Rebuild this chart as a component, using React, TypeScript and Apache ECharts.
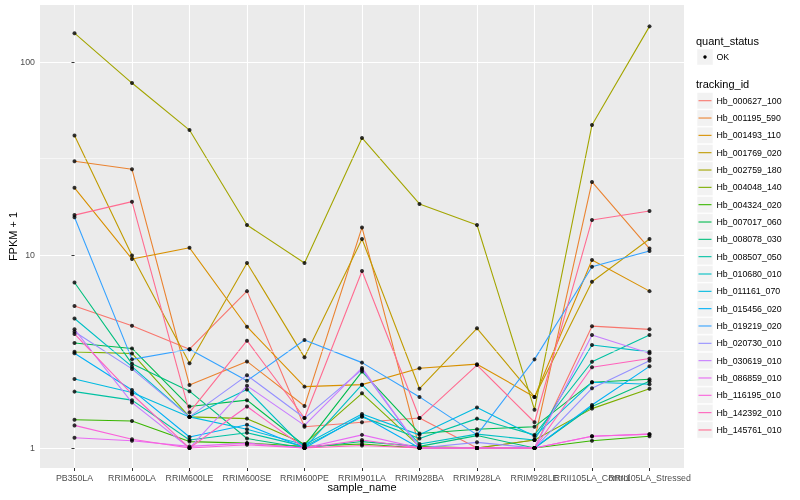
import React, { useEffect, useRef } from 'react';
import * as echarts from 'echarts';

const samples = ['PB350LA', 'RRIM600LA', 'RRIM600LE', 'RRIM600SE', 'RRIM600PE', 'RRIM901LA', 'RRIM928BA', 'RRIM928LA', 'RRIM928LE', 'RRII105LA_Control', 'RRII105LA_Stressed'];

const trackingIds = ['Hb_000627_100', 'Hb_001195_590', 'Hb_001493_110', 'Hb_001769_020', 'Hb_002759_180', 'Hb_004048_140', 'Hb_004324_020', 'Hb_007017_060', 'Hb_008078_030', 'Hb_008507_050', 'Hb_010680_010', 'Hb_011161_070', 'Hb_015456_020', 'Hb_019219_020', 'Hb_020730_010', 'Hb_030619_010', 'Hb_086859_010', 'Hb_116195_010', 'Hb_142392_010', 'Hb_145761_010'];

const colors = ['#F8766D', '#EA8331', '#D89000', '#C09B00', '#A3A500', '#7CAE00', '#39B600', '#00BB4E', '#00BF7D', '#00C1A3', '#00BFC4', '#00BAE0', '#00B0F6', '#35A2FF', '#9590FF', '#C77CFF', '#E76BF3', '#FA62DB', '#FF62BC', '#FF6C91'];

// FPKM + 1 per sample
const hb000627_100 = [5.44, 4.3, 3.25, 6.5, 1.29, 1.36, 1.43, 1.0, 1.0, 4.28, 4.12];
const hb001195_590 = [30.6, 27.8, 2.12, 2.81, 1.65, 13.9, 1.0, 1.0, 1.1, 23.9, 10.8];
const hb001493_110 = [22.3, 9.53, 10.9, 4.25, 2.08, 2.13, 2.59, 2.72, 1.84, 9.43, 6.5];
const hb001769_020 = [41.6, 9.95, 2.75, 9.1, 2.95, 12.1, 2.03, 4.17, 1.84, 7.27, 12.1];
const hb002759_180 = [141, 77.8, 44.4, 14.3, 9.09, 40.4, 18.4, 14.3, 1.58, 47.2, 153];
const hb004048_140 = [3.15, 3.09, 1.45, 1.42, 1.05, 1.92, 1.02, 1.0, 1.1, 1.6, 2.03];
const hb004324_020 = [1.4, 1.38, 1.08, 1.06, 1.02, 1.05, 1.0, 1.0, 1.0, 1.09, 1.15];
const hb007017_060 = [3.5, 3.28, 1.64, 1.77, 1.03, 2.49, 1.19, 1.25, 1.29, 2.19, 2.27];
const hb008078_030 = [7.2, 2.73, 1.97, 1.12, 1.0, 1.08, 1.02, 1.16, 1.0, 1.64, 2.22];
const hb008507_050 = [1.96, 1.77, 1.1, 1.2, 1.02, 1.45, 1.12, 1.42, 1.17, 2.8, 3.85];
const hb010680_010 = [4.69, 2.64, 1.45, 2.01, 1.0, 2.13, 1.05, 1.18, 1.1, 3.42, 3.15];
const hb011161_070 = [2.28, 1.94, 1.45, 1.25, 1.04, 1.5, 1.17, 1.62, 1.15, 2.19, 2.14];
const hb015456_020 = [3.1, 2.0, 1.14, 1.32, 1.0, 1.47, 1.0, 1.0, 1.0, 1.67, 2.65];
const hb019219_020 = [15.7, 2.88, 3.25, 2.23, 3.63, 2.77, 1.84, 1.17, 2.88, 8.7, 10.5];
const hb020730_010 = [4.0, 2.57, 1.45, 2.38, 1.43, 2.55, 1.0, 1.07, 1.0, 2.04, 2.83];
const hb030619_010 = [4.12, 1.72, 1.0, 2.1, 1.31, 2.6, 1.0, 1.0, 1.0, 3.85, 3.1];
const hb086859_010 = [1.13, 1.09, 1.02, 1.06, 1.0, 1.17, 1.0, 1.0, 1.0, 1.15, 1.18];
const hb116195_010 = [1.31, 1.11, 1.0, 1.04, 1.0, 1.1, 1.0, 1.0, 1.0, 1.15, 1.18];
const hb142392_010 = [3.9, 1.9, 1.0, 1.64, 1.0, 1.03, 1.0, 1.0, 1.0, 2.62, 2.91];
const hb145761_010 = [16.1, 18.9, 1.53, 3.6, 1.43, 8.26, 1.43, 2.69, 1.36, 15.2, 16.9];

const seriesValues = [hb000627_100, hb001195_590, hb001493_110, hb001769_020, hb002759_180, hb004048_140, hb004324_020, hb007017_060, hb008078_030, hb008507_050, hb010680_010, hb011161_070, hb015456_020, hb019219_020, hb020730_010, hb030619_010, hb086859_010, hb116195_010, hb142392_010, hb145761_010];

const yMajorTicks = [1, 10, 100];
const yMinorBreaks = [3.1623, 31.623];
const yMin = 0.788;
const yMax = 197.4;

const FONT = '"Liberation Sans", Arial, Helvetica, sans-serif';

export default function App() {
  const ref = useRef<HTMLDivElement>(null);
  useEffect(() => {
    if (!ref.current) return;
    const chart = echarts.init(ref.current, undefined, { renderer: 'svg' });
    const xIdx = samples.map((_, i) => i);
    const xIdxEven = xIdx.filter((i) => i % 2 === 0);
    const xIdxOdd = xIdx.filter((i) => i % 2 === 1);

    const lineSeries = seriesValues.map((vals, i) => ({
      type: 'line',
      name: trackingIds[i],
      data: vals.map((v, j) => [j, v]),
      showSymbol: false,
      symbol: 'none',
      silent: true,
      z: 3,
      lineStyle: { color: colors[i], width: 1.1 },
      itemStyle: { color: colors[i] },
    }));

    const points: number[][] = [];
    seriesValues.forEach((vals) => vals.forEach((v, j) => points.push([j, v])));

    const legendItems: any[] = [];
    const legendX = 697;
    legendItems.push({ type: 'text', x: 696, y: 41, style: { text: 'quant_status', fontSize: 11, fontFamily: FONT, fill: '#000', align: 'left', verticalAlign: 'middle' } });
    legendItems.push({ type: 'rect', shape: { x: legendX, y: 49, width: 16, height: 16 }, style: { fill: '#F2F2F2', stroke: '#fff', lineWidth: 0.5 } });
    legendItems.push({ type: 'circle', shape: { cx: legendX + 8, cy: 57, r: 1.7 }, style: { fill: '#000' } });
    legendItems.push({ type: 'text', x: 716.5, y: 57, style: { text: 'OK', fontSize: 8.8, fontFamily: FONT, fill: '#000', align: 'left', verticalAlign: 'middle' } });
    legendItems.push({ type: 'text', x: 696, y: 84, style: { text: 'tracking_id', fontSize: 11, fontFamily: FONT, fill: '#000', align: 'left', verticalAlign: 'middle' } });
    trackingIds.forEach((id, i) => {
      const cy = 100.7 + 17.33 * i;
      legendItems.push({ type: 'rect', shape: { x: legendX, y: cy - 8.3, width: 16, height: 16.6 }, style: { fill: '#F2F2F2', stroke: '#fff', lineWidth: 0.7 } });
      legendItems.push({ type: 'line', shape: { x1: legendX + 1.5, y1: cy, x2: legendX + 14.5, y2: cy }, style: { stroke: colors[i], lineWidth: 1.1 } });
      legendItems.push({ type: 'text', x: 716.5, y: cy, style: { text: id, fontSize: 8.8, fontFamily: FONT, fill: '#000', align: 'left', verticalAlign: 'middle' } });
    });

    const labelStyle = {
      formatter: (v: number) => samples[Math.round(v)] ?? '',
      color: '#4D4D4D',
      fontSize: 8.8,
      fontFamily: FONT,
      margin: 5,
      hideOverlap: false,
      showMinLabel: true,
      showMaxLabel: true,
    };

    const option: any = {
      animation: false,
      grid: { left: 40, top: 5, width: 644, height: 463, show: true, backgroundColor: '#EBEBEB', borderWidth: 0 },
      xAxis: [
        {
          type: 'value',
          position: 'bottom',
          min: -0.6,
          max: 10.6,
          axisLine: { show: false },
          axisTick: { show: true, customValues: xIdx, length: 3, lineStyle: { color: '#333333', width: 1 } },
          axisLabel: { ...labelStyle, customValues: xIdxEven },
          splitLine: { show: true, lineStyle: { color: '#FFFFFF', width: 1.1 } },
        },
        {
          type: 'value',
          position: 'bottom',
          offset: 0,
          min: -0.6,
          max: 10.6,
          axisLine: { show: false },
          axisTick: { show: false },
          axisLabel: { ...labelStyle, customValues: xIdxOdd },
          splitLine: { show: false },
        },
      ],
      yAxis: {
        type: 'log',
        logBase: 10,
        min: yMin,
        max: yMax,
        axisLine: { show: false },
        axisTick: { show: true, customValues: yMajorTicks, length: 3, lineStyle: { color: '#333333', width: 1 } },
        axisLabel: {
          customValues: yMajorTicks,
          formatter: (v: number) => String(Math.round(v)),
          color: '#4D4D4D',
          fontSize: 8.8,
          fontFamily: FONT,
          margin: 5,
          showMinLabel: true,
          showMaxLabel: true,
        },
        splitLine: { show: true, lineStyle: { color: '#FFFFFF', width: 1.1 } },
      },
      graphic: [
        { type: 'text', x: 362, y: 487, style: { text: 'sample_name', fontSize: 11, fontFamily: FONT, fill: '#000', align: 'center', verticalAlign: 'middle' } },
        { type: 'text', x: 13, y: 236.5, rotation: Math.PI / 2, style: { text: 'FPKM + 1', fontSize: 11, fontFamily: FONT, fill: '#000', align: 'center', verticalAlign: 'middle' } },
        ...legendItems,
      ],
      series: [
        {
          type: 'line',
          data: [],
          z: 1,
          silent: true,
          markLine: {
            silent: true,
            symbol: ['none', 'none'],
            label: { show: false },
            lineStyle: { color: '#FFFFFF', width: 0.55, type: 'solid' },
            data: yMinorBreaks.map((v) => ({ yAxis: v })),
          },
        },
        ...lineSeries,
        {
          type: 'scatter',
          data: points,
          symbol: 'circle',
          symbolSize: 4,
          silent: true,
          z: 5,
          itemStyle: { color: '#000000' },
        },
      ],
    };
    chart.setOption(option);
    return () => chart.dispose();
  }, []);
  return <div ref={ref} style={{ position: 'fixed', left: 0, top: 0, width: 800, height: 500 }} />;
}
